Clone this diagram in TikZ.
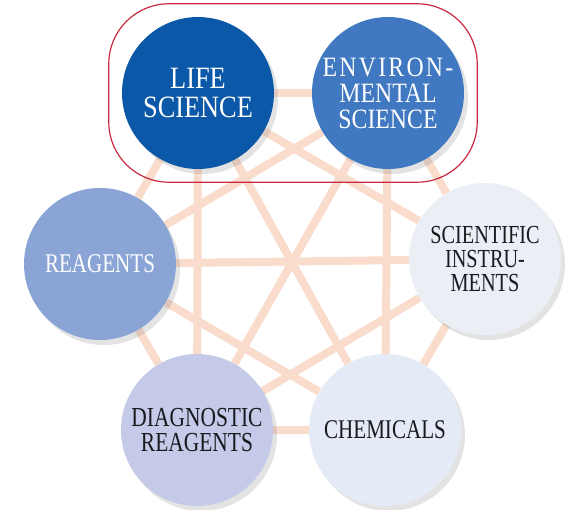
\documentclass[tikz,border=0pt]{standalone}
\usepackage{fontspec}
\setmainfont{Liberation Serif}[FakeStretch=0.78]
\newfontfamily\widefont{Liberation Serif}[FakeStretch=0.85]
\usetikzlibrary{fit, backgrounds, shadows}

\definecolor{lifeblue}{RGB}{12,88,168}
\definecolor{envblue}{RGB}{64,120,194}
\definecolor{reagblue}{RGB}{138,164,214}
\definecolor{instrgray}{RGB}{236,238,246}
\definecolor{diaglav}{RGB}{196,202,232}
\definecolor{chemgray}{RGB}{228,234,246}
\definecolor{peach}{RGB}{249,220,203}
\definecolor{grpred}{RGB}{200,40,64}
\definecolor{darktext}{RGB}{25,25,30}

\newcommand{\spaced}[1]{{\addfontfeature{LetterSpace=8}#1}}

\tikzset{
  field/.style={circle, minimum size=152pt, inner sep=0pt, align=center,
    drop shadow={opacity=0.22, shadow xshift=4pt, shadow yshift=-5pt}},
  link/.style={draw=peach, line width=8pt},
}

\begin{document}
\begin{tikzpicture}[x=1pt, y=-1pt]
    \useasboundingbox (0,0) rectangle (582,510);
    % fields
    \node[field, fill=lifeblue, text=white, font=\widefont\fontsize{31}{28.5}\selectfont]
        (life) at (198,93) {LIFE\\SCIENCE};
    \node[field, fill=envblue, text=white, font=\widefont\fontsize{28}{26}\selectfont]
        (env) at (388,93) {\spaced{ENVIRON-}\\MENTAL\\SCIENCE};
    \node[field, fill=instrgray, text=darktext, font=\fontsize{26}{24}\selectfont]
        (instr) at (485,259) {SCIENTIFIC\\INSTRU-\\MENTS};
    \node[field, fill=chemgray, text=darktext, font=\fontsize{27}{25}\selectfont]
        (chem) at (385,430) {CHEMICALS};
    \node[field, fill=diaglav, text=darktext, font=\fontsize{27.5}{25}\selectfont]
        (diag) at (197,430) {DIAGNOSTIC\\REAGENTS};
    \node[field, fill=reagblue, text=white, font=\fontsize{27}{25}\selectfont]
        (reag) at (100,264) {REAGENTS};
    % links
    \begin{scope}[on background layer]
        \draw[link] (life) -- (env);
        \draw[link] (env) -- (instr);
        \draw[link] (instr) -- (chem);
        \draw[link] (chem) -- (diag);
        \draw[link] (diag) -- (reag);
        \draw[link] (reag) -- (life);
        \draw[link] (life) -- (diag);
        \draw[link] (env) -- (chem);
        \draw[link] (reag) -- (instr);
        \draw[link] (life) -- (chem);
        \draw[link] (env) -- (diag);
        \draw[link] (life) -- (instr);
        \draw[link] (reag) -- (env);
        \draw[link] (reag) -- (chem);
        \draw[link] (diag) -- (instr);
    \end{scope}
    % group
    \node[fit=(life)(env), draw=grpred, line width=1.2pt, rounded corners=60pt,
        inner sep=13pt] (grp) {};
\end{tikzpicture}
\end{document}
